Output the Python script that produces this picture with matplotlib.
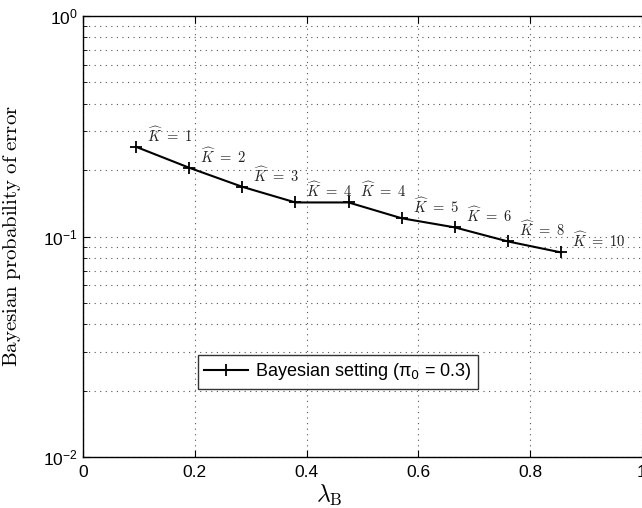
import numpy as np
import matplotlib
matplotlib.use('Agg')
import matplotlib.pyplot as plt
from matplotlib.ticker import LogLocator, NullFormatter, FixedLocator

plt.rcParams['font.family'] = ['Liberation Sans', 'DejaVu Sans']
plt.rcParams['mathtext.fontset'] = 'cm'

# lambda_B values and Bayesian error probabilities
lambda_b = [0.095, 0.19, 0.285, 0.38, 0.475, 0.57, 0.665, 0.76, 0.855]
p_error = [0.255, 0.205, 0.168, 0.1427, 0.1427, 0.121, 0.110, 0.095, 0.0847]
k_hat = [1, 2, 3, 4, 4, 5, 6, 8, 10]
x_ticks = [0, 0.2, 0.4, 0.6, 0.8, 1.0]
x_tick_labels = ['0', '0.2', '0.4', '0.6', '0.8', '1']

fig = plt.figure(figsize=(6.42, 5.08), dpi=100)
ax = fig.add_axes([83 / 642, 51 / 508, 559 / 642, 441 / 508])

ax.semilogy(lambda_b, p_error, color='black', linewidth=1.5, marker='+',
            markersize=9, markeredgewidth=1.3,
            label='Bayesian setting (π$_0$ = 0.3)')

for x, y, k in zip(lambda_b, p_error, k_hat):
    ax.annotate(r'$\widehat{K}\ =\ %d$' % k, (x, y), xytext=(11, 2),
                textcoords='offset pixels', ha='left', va='bottom',
                fontsize=10.5, color='#222222')

ax.set_xlim(0, 1)
ax.set_ylim(1e-2, 1)
ax.xaxis.set_major_locator(FixedLocator(x_ticks))
ax.set_xticklabels(x_tick_labels)
ax.yaxis.set_major_locator(LogLocator(base=10, numticks=5))
ax.yaxis.set_minor_locator(LogLocator(base=10, subs=np.arange(2, 10), numticks=20))
ax.yaxis.set_minor_formatter(NullFormatter())

ax.grid(True, which='major', linestyle=(0, (1, 4)), color='#555555', linewidth=0.8)
ax.grid(True, which='minor', axis='y', linestyle=(0, (1, 4)), color='#555555', linewidth=0.8)

ax.tick_params(which='both', direction='in', top=True, right=False, labelsize=12.5)
ax.tick_params(which='major', length=5)
ax.tick_params(which='minor', length=3)
ax.tick_params(axis='x', pad=6)
for side in ['left', 'bottom', 'top']:
    ax.spines[side].set_linewidth(1.0)
ax.spines['right'].set_visible(False)

ax.set_xlabel(r'$\lambda_{\mathrm{B}}$', fontsize=17, labelpad=0)
ax.xaxis.set_label_coords(0.44, -0.06)
ax.set_ylabel(r'$\mathrm{Bayesian\ probability\ of\ error}$', fontsize=15)
ax.yaxis.set_label_coords(-0.108, 0.5)

leg = ax.legend(loc='upper left', bbox_to_anchor=(0.206, 0.231), fontsize=13,
                frameon=True, fancybox=False, edgecolor='black', borderaxespad=0,
                handlelength=2.4, borderpad=0.35, handletextpad=0.4)
leg.get_frame().set_linewidth(1.0)
for t in leg.get_texts():
    t.set_math_fontfamily('dejavusans')

fig.savefig('out.png', dpi=100)
